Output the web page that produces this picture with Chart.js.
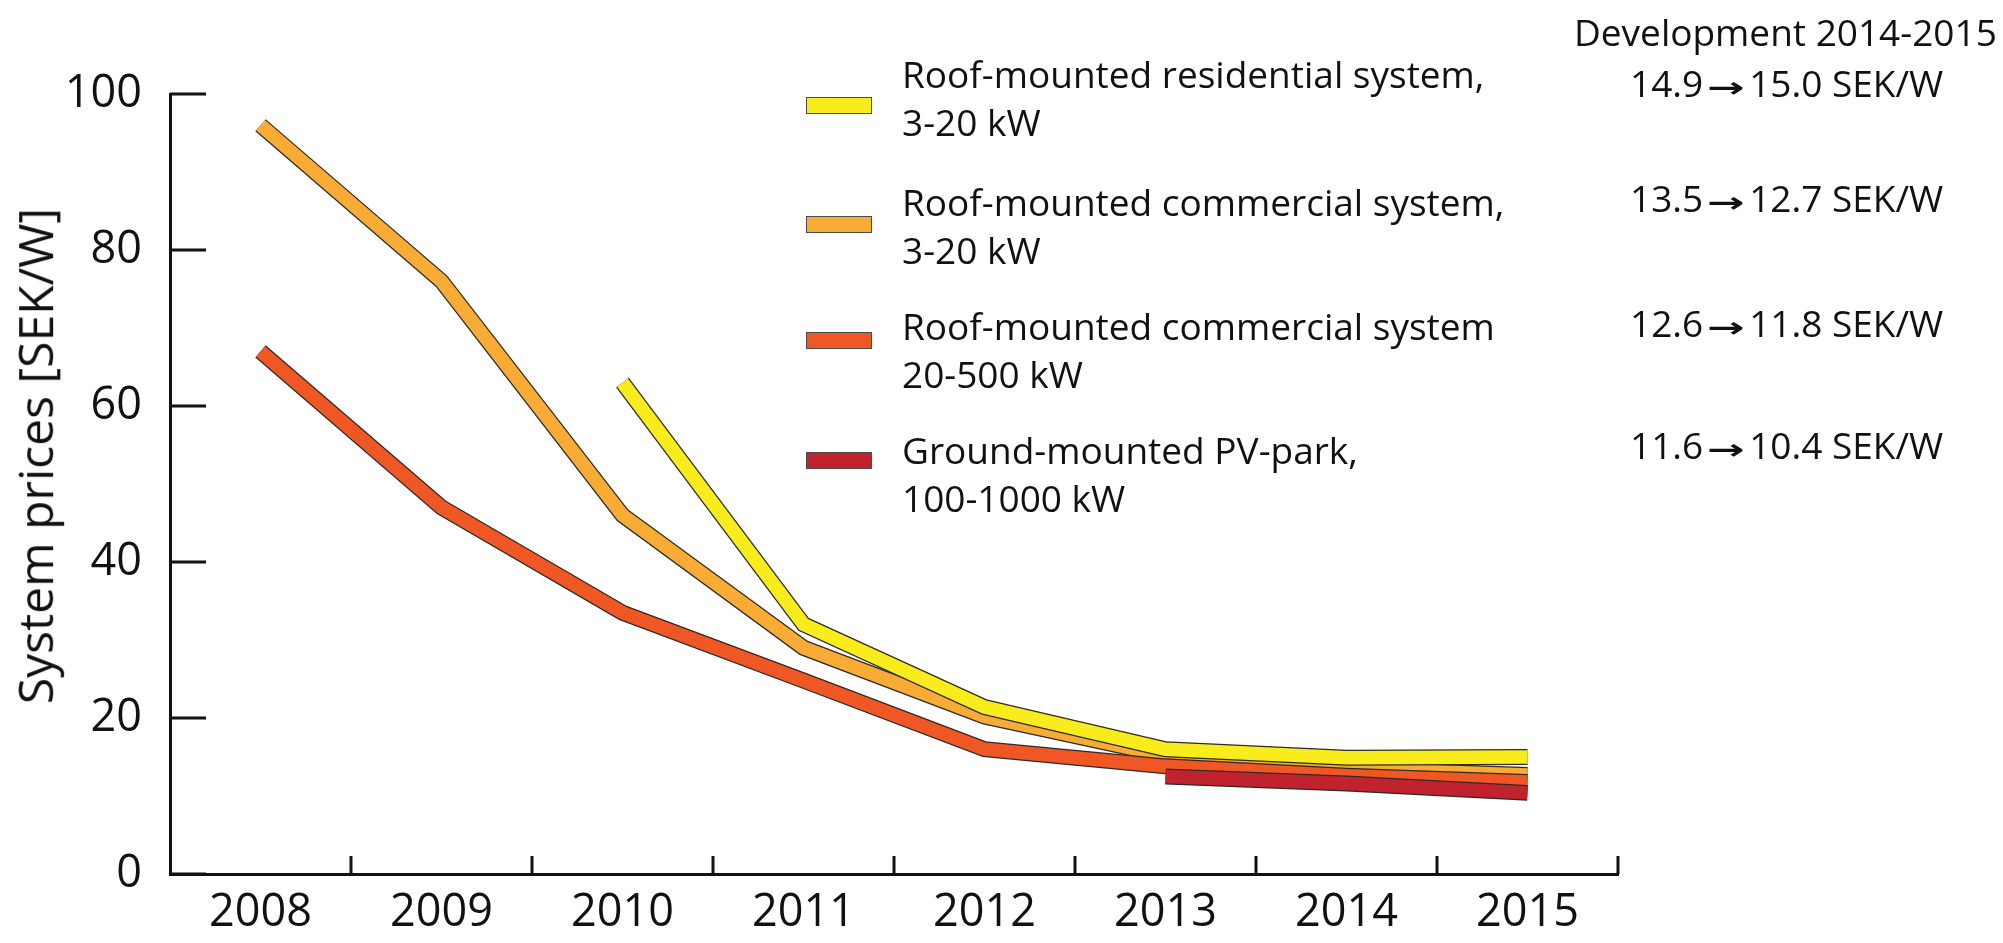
<!DOCTYPE html>
<html><head><meta charset="utf-8">
<script src="https://cdn.jsdelivr.net/npm/chart.js@4/dist/chart.umd.min.js"></script>
<style>
html,body{margin:0;padding:0;background:#fff;}
#wrap{position:relative;width:2003px;height:943px;overflow:hidden;}
#c{position:absolute;left:0;top:0;}
.t{position:absolute;font-family:'Open Sans',sans-serif;color:#111;white-space:nowrap;}
.lg{font-size:37px;line-height:48px;left:902px;}
.dv{font-size:37px;line-height:48px;}
.sw{position:absolute;left:806px;width:66px;height:17px;box-sizing:border-box;border:1.5px solid #4a4a4a;}
.arr{display:inline-block;width:46px;text-align:center;font-family:'DejaVu Sans';font-weight:bold;font-size:28px;}
.arr > span{display:inline-block;transform:scaleX(1.6);}
#ytitle{font-size:48px;line-height:48px;transform-origin:50% 50%;}
</style></head>
<body><div id="wrap"><canvas id="c" width="2003" height="943"></canvas></div>
<script>
// ---- data ----
const years = ['2008','2009','2010','2011','2012','2013','2014','2015'];
const residential     = [null, null, 63, 32, 21.4, 16, 14.9, 15.0];
const commercialSmall = [96, 76, 46, 29, 20.2, 15.2, 13.5, 12.7];
const commercialLarge = [67, 47, 33.5, 24.8, 16, 13.8, 12.6, 11.8];
const pvPark          = [null, null, null, null, null, 12.5, 11.6, 10.4];
const yTicks = [0, 20, 40, 60, 80, 100];
const seriesNames = [
  ['Roof-mounted residential system,', '3-20 kW'],
  ['Roof-mounted commercial system,', '3-20 kW'],
  ['Roof-mounted commercial system', '20-500 kW'],
  ['Ground-mounted PV-park,', '100-1000 kW']
];
const devFrom = ['14.9', '13.5', '12.6', '11.6'];
const devTo   = ['15.0', '12.7', '11.8', '10.4'];
const devTitle = 'Development 2014-2015';
const yTitle = 'System prices [SEK/W]';
const colors = ['#f8ec1d', '#f8ac36', '#ef5824', '#c0232e'];

// ---- html texts ----
const wrap = document.getElementById('wrap');
function addDiv(cls, html, style){ const d=document.createElement('div'); d.className='t '+cls; d.innerHTML=html; Object.assign(d.style, style||{}); wrap.appendChild(d); return d; }
const legendTops = [50, 178, 302, 426];
const swTops = [97, 216, 332, 452];
const devTops = [59, 174, 299, 421];
seriesNames.forEach((n,i)=>{
  addDiv('lg', n[0]+'<br>'+n[1], {top: legendTops[i]+'px'});
  const s=document.createElement('div'); s.className='sw'; s.style.top=swTops[i]+'px'; s.style.background=colors[i]; wrap.appendChild(s);
  addDiv('dv', devFrom[i]+'<span class="arr"><span>\u2192</span></span>'+devTo[i]+' SEK/W', {top: devTops[i]+'px', left:'1630px'});
});
addDiv('dv', devTitle, {top:'8px', left:'1574px'});
const yt = addDiv('', yTitle, {});
yt.id='ytitle';
const w = yt.offsetWidth;
yt.style.left = (35 - w/2)+'px';
yt.style.top = (456 - 24)+'px';
yt.style.transform = 'rotate(-90deg)';

// ---- chart ----
function pair(data, color, idx, order){
  return [
    {label:'o'+idx, data, borderColor:'#2e2a26', borderWidth:16, pointRadius:0, tension:0, borderJoinStyle:'miter', borderCapStyle:'butt', order: order+0.5, spanGaps:false},
    {label:'f'+idx, data, borderColor:color, borderWidth:13.5, pointRadius:0, tension:0, borderJoinStyle:'miter', borderCapStyle:'butt', order: order, spanGaps:false}
  ];
}
// draw order bottom->top: commercialSmall, commercialLarge, residential, pvPark (higher order drawn first)
const datasets = [
  ...pair(pvPark, colors[3], 3, 1),
  ...pair(residential, colors[0], 0, 2),
  ...pair(commercialLarge, colors[2], 2, 3),
  ...pair(commercialSmall, colors[1], 1, 4)
];

const tickPlugin = {
  id:'inTicks',
  afterDraw(chart){
    const ctx=chart.ctx, xs=chart.scales.x, ys=chart.scales.y;
    ctx.save();
    ctx.strokeStyle='#111'; ctx.lineWidth=3; ctx.lineCap='butt';
    ys.ticks.forEach((t,i)=>{
      const y=ys.getPixelForValue(t.value);
      ctx.beginPath(); ctx.moveTo(xs.left, y); ctx.lineTo(xs.left+36, y); ctx.stroke();
    });
    for(let i=1;i<=years.length;i++){
      const x=xs.getPixelForValue(i-0.5);
      ctx.beginPath(); ctx.moveTo(x, ys.bottom); ctx.lineTo(x, ys.bottom-18); ctx.stroke();
    }
    ctx.restore();
  }
};

new Chart(document.getElementById('c'), {
  type:'line',
  data:{labels:years, datasets},
  options:{
    responsive:false, animation:false, devicePixelRatio:1,
    layout:{padding:{left:0, top:94, right:385, bottom:0}},
    plugins:{legend:{display:false}, tooltip:{enabled:false}},
    scales:{
      x:{
        type:'category', offset:true,
        grid:{display:false, drawTicks:false, offset:true},
        border:{display:true, color:'#111', width:3},
        ticks:{color:'#111', font:{family:'Open Sans', size:45}, padding:12, maxRotation:0},
        afterFit(s){ s.height = 943-874; }
      },
      y:{
        min:0, max:100,
        afterBuildTicks(s){ s.ticks = yTicks.map(v=>({value:v})); },
        grid:{display:false, drawTicks:false},
        border:{display:true, color:'#111', width:3},
        ticks:{color:'#111', font:{family:'Open Sans', size:45}, padding:28},
        afterFit(s){ s.width = 170; }
      }
    }
  },
  plugins:[tickPlugin]
});
</script>
</body></html>
